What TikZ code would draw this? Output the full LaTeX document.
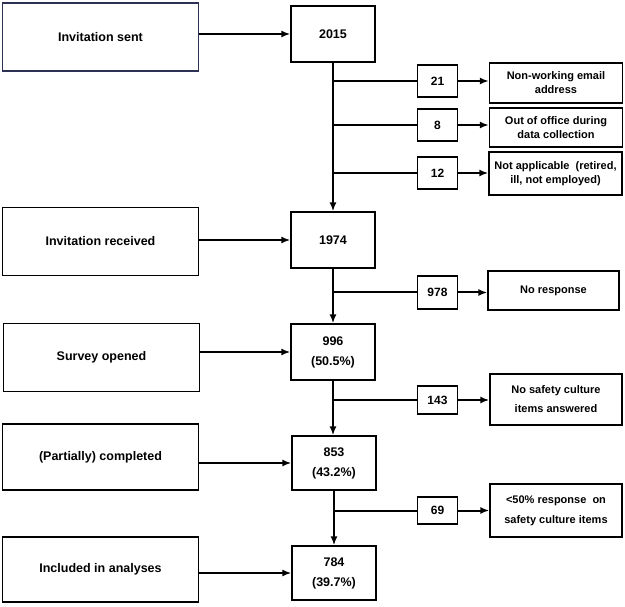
\documentclass[tikz,border=0pt]{standalone}
\usepackage{fontspec}
\setmainfont{Liberation Sans}
\usetikzlibrary{arrows.meta}
\definecolor{boxnavy}{RGB}{45,50,85}
\tikzset{
  stage/.style={draw,line width=1.3pt,minimum width=196pt,minimum height=68pt,
    font=\fontsize{12.5}{15}\selectfont\bfseries},
  tally/.style={draw,line width=1.3pt,minimum width=84pt,minimum height=56pt,
    align=center,font=\fontsize{12.5}{20}\selectfont\bfseries},
  lost/.style={draw,line width=1.3pt,minimum width=40pt,minimum height=32pt,
    font=\fontsize{12}{14}\selectfont\bfseries},
  reason/.style={draw,line width=1.3pt,minimum width=133pt,align=center,inner sep=2pt,
    font=\fontsize{11}{14}\selectfont\bfseries},
  flow/.style={line width=2pt,-{Latex[length=9pt,width=7pt]}},
  branch/.style={line width=2pt},
}
\begin{document}
\begin{tikzpicture}[x=1pt,y=-1pt]
  \useasboundingbox (0,0) rectangle (625,607);
  % stages
  \node[stage,draw=boxnavy] (sent) at (100.5,37) {Invitation sent};
  \node[stage] (received) at (100.5,241.5) {Invitation received};
  \node[stage] (opened) at (101.5,357.5) {Survey opened};
  \node[stage,minimum height=66pt] (completed) at (100.5,457) {(Partially) completed};
  \node[stage,minimum height=65pt] (included) at (100.5,569.5) {Included in analyses};
  % numbers
  \node[tally] (n2015) at (333,34) {2015};
  \node[tally] (n1974) at (333,240) {1974};
  \node[tally] (n996) at (333,352) {996\\(50.5\%)};
  \node[tally,minimum height=54pt] (n853) at (334,463) {853\\(43.2\%)};
  \node[tally,minimum height=54pt] (n784) at (334,573) {784\\(39.7\%)};
  % drop-outs
  \node[lost] (l21) at (437.5,81) {21};
  \node[lost] (l8) at (437.5,125) {8};
  \node[lost] (l12) at (437.5,173) {12};
  \node[lost,minimum height=33pt] (l978) at (437.5,292.5) {978};
  \node[lost,minimum height=28pt] (l143) at (437.5,400) {143};
  \node[lost,minimum height=27pt] (l69) at (437.5,510.5) {69};
  \node[reason,minimum height=40pt] (r21) at (556,83) {Non-working email\\address};
  \node[reason,minimum height=39pt] (r8) at (556,127.5) {Out of office during\\data collection};
  \node[reason,minimum height=43pt] (r12) at (555.5,173.5) {Not applicable~ (retired,\\ill, not employed)};
  \node[reason,minimum height=39pt,minimum width=131pt] (rnone) at (553.5,290.5) {No response};
  \node[reason,minimum height=51pt,minimum width=132pt] (rsafe) at (556,399.5) {No safety culture\\[5pt]items answered};
  \node[reason,minimum height=53pt,minimum width=132pt] (rhalf) at (556,510.5) {<50\% response~ on\\[6pt]safety culture items};
  % flow
  \draw[flow] (sent.east |- n2015) -- (n2015);
  \draw[flow] (received.east |- n1974) -- (n1974);
  \draw[flow] (opened.east |- n996) -- (n996);
  \draw[flow] (completed.east |- n853) -- (n853);
  \draw[flow] (included.east |- n784) -- (n784);
  \draw[flow] (n2015) -- (n1974);
  \draw[flow] (n1974) -- (n996);
  \draw[flow] (n996.south) -- (n853.north -| n996.south);
  \draw[flow] (n853.south) -- (n784.north -| n853.south);
  \foreach \l/\r/\s in {l21/r21/n2015,l8/r8/n2015,l12/r12/n2015,l978/rnone/n1974,l143/rsafe/n996,l69/rhalf/n853}{
    \draw[branch] (\s |- \l) -- (\l);
    \draw[flow] (\l) -- (\l -| \r.west);
  }
\end{tikzpicture}
\end{document}
